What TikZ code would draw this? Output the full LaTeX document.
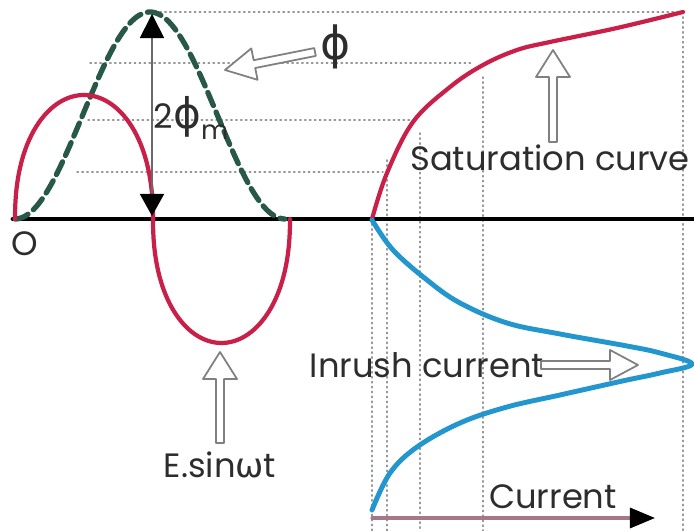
\documentclass[tikz,border=0pt]{standalone}
\usepackage{fontspec}
\setmainfont{Poppins}
\newfontfamily\greekfont{DejaVu Sans}
\usetikzlibrary{arrows.meta,calc}
\definecolor{trRed}{RGB}{200, 32, 72}
\definecolor{trBlue}{RGB}{35, 150, 205}
\definecolor{trGreen}{RGB}{40, 88, 72}
\definecolor{trGrid}{RGB}{150, 150, 150}
\definecolor{trText}{RGB}{45, 45, 45}
\definecolor{trMauve}{RGB}{165, 120, 135}

% hollow block arrow: tail, tip, head length, head half width
\newcommand{\hollowarrow}[4]{%
  \draw[openarr] ($(#1)!0.04cm!90:(#2)$) -- ($(#2)!#3!(#1)!0.04cm!-90:(#1)$)
    -- ($(#2)!#3!(#1)!#4!-90:(#1)$) -- (#2) -- ($(#2)!#3!(#1)!#4!90:(#1)$)
    -- ($(#2)!#3!(#1)!0.04cm!90:(#1)$) -- ($(#1)!0.04cm!-90:(#2)$) -- cycle;}

\begin{document}
\begin{tikzpicture}[x=0.01cm, y=-0.01cm, line cap=round, line join=round,
    gridline/.style={trGrid, line width=0.4pt, densely dotted},
    openarr/.style={draw=trGrid!85!black, line width=0.5pt, fill=white},
    lbl/.style={text=trText, font=\fontsize{9.6}{11}\selectfont, inner sep=0pt}]
    \useasboundingbox (0,0) rectangle (694,531);
    \draw[gridline] (155,12) -- (683,12);
    \draw[gridline] (90,63) -- (473,63);
    \draw[gridline] (88,120) -- (413,120);
    \draw[gridline] (77,172) -- (383,172);
    \foreach \x/\y in {372/219, 387/160, 420/133, 483/77, 683/12}
        \draw[gridline] (\x,\y) -- (\x,531);
    \coordinate (o) at (15,219);
    \coordinate (axend) at (694,219);
    \draw[black, line width=1.4pt] (13,219) -- (axend);
    \draw[trGreen, line width=1.5pt, dash pattern=on 4pt off 2pt]
        plot[domain=15:285, samples=80, smooth] (\x, {219-103.5*(1-cos((\x-15)*4/3))});
    \draw[trRed, line width=1.2pt] (o)
        -- plot[domain=1:179, samples=60] ({84-69*cos(\x)}, {219-124*pow(sin(\x),0.9)})
        -- (153,219)
        -- plot[domain=1:179, samples=60] ({221.5-68.5*cos(\x)}, {219+124*pow(sin(\x),0.9)})
        -- (290,219);
    \draw[trRed, line width=1.2pt] plot[smooth, tension=0.6] coordinates
        {(372,219) (387,173) (413,122) (450,87) (483,65) (517,50) (550,42) (617,28) (683,12)};
    \draw[trBlue, line width=1.4pt] plot[smooth, tension=0.6] coordinates
        {(372,220) (393,250) (427,280) (460,303) (507,323) (560,334) (627,346) (660,353) (692,364)
         (660,373) (627,380) (600,386) (560,395) (507,407) (460,423) (417,447) (390,473) (372,510)};
    \coordinate (fpeak) at (152,14);
    \coordinate (fbase) at (152,216);
    \draw[trGrid!70!black, line width=0.5pt,
        {Triangle[width=0.24cm, length=0.24cm, black]}-{Triangle[width=0.24cm, length=0.22cm, black]}]
        (fpeak) -- (fbase);
    \coordinate (ibase) at (372,518);
    \coordinate (iend) at (655,518);
    \draw[trMauve, line width=0.9pt, -{Triangle[width=0.2cm, length=0.25cm, black]}] (ibase) -- (iend);
    \node[lbl] (orig) at (25,244) {O};
    \node[lbl] (phi) at (336,47) {\greekfont\fontsize{13}{15}\selectfont ϕ};
    \node[lbl] (twophim) at (191,118) {2{\greekfont\fontsize{12}{14}\selectfont ϕ}\raisebox{-0.6ex}{\fontsize{7.5}{8}\selectfont m}};
    \node[lbl] (sat) at (550,158) {Saturation curve};
    \node[lbl] (inrush) at (427,365) {Inrush current};
    \node[lbl] (cur) at (553,497) {Current};
    \node[lbl] (esin) at (220,465) {E.sin{\greekfont ω}t};
    \coordinate (phitail) at (315,52);
    \coordinate (phitip) at (225,70);
    \coordinate (esintail) at (220,443);
    \coordinate (esintip) at (220,352);
    \coordinate (sattail) at (553,142);
    \coordinate (sattip) at (553,50);
    \coordinate (inrushtail) at (541,365);
    \coordinate (inrushtip) at (638,365);
    \hollowarrow{phitail}{phitip}{0.3cm}{0.16cm}
    \hollowarrow{esintail}{esintip}{0.27cm}{0.17cm}
    \hollowarrow{sattail}{sattip}{0.27cm}{0.17cm}
    \hollowarrow{inrushtail}{inrushtip}{0.28cm}{0.15cm}
\end{tikzpicture}
\end{document}
